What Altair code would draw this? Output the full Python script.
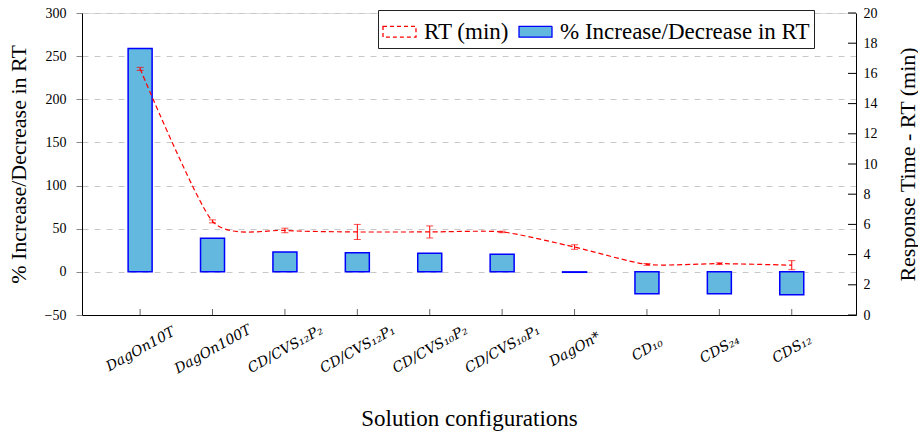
import altair as alt
import pandas as pd

# ---- data ----
configs = ["DagOn10T", "DagOn100T", "CD/CVS₁₂P₂", "CD/CVS₁₂P₁", "CD/CVS₁₀P₂",
           "CD/CVS₁₀P₁", "DagOn*", "CD₁₀", "CDS₂₄", "CDS₁₂"]
pct_change = [259, 39, 23, 22, 21.5, 20.5, -0.5, -25.5, -25.5, -26.5]
rt_min = [16.3, 6.2, 5.6, 5.5, 5.5, 5.5, 4.5, 3.35, 3.4, 3.3]
rt_err = [0.1, 0.1, 0.15, 0.5, 0.4, 0.05, 0.15, 0.06, 0.06, 0.3]
left_ticks = [-50, 0, 50, 100, 150, 200, 250, 300]
right_ticks = [0, 2, 4, 6, 8, 10, 12, 14, 16, 18, 20]

S_RT = "RT (min)"
S_PCT = "% Increase/Decrease in RT"

W, H = 774, 302
FONT = "Liberation Serif"
XFONT = "DejaVu Serif"

df = pd.DataFrame({"config": configs, "pct": pct_change, "rt": rt_min, "err": rt_err})
df["lo"] = df["rt"] - df["err"]
df["hi"] = df["rt"] + df["err"]
rt_tick_df = pd.DataFrame({"v": right_ticks})
legend_df = pd.DataFrame({"series": [S_RT, S_PCT]})

x_enc = alt.X(
    "config:N", sort=configs,
    scale=alt.Scale(type="point", padding=0.845, align=0.475),
    axis=alt.Axis(
        title="Solution configurations", titleFontSize=23, titleFont=FONT,
        titleFontWeight="normal", titleColor="black", titleY=103, titleBaseline="middle",
        labelAngle=331, labelAlign="center", labelBaseline="middle", labelPadding=34,
        labelFontStyle="italic", labelFontSize=14, labelFont=XFONT, labelColor="black",
        ticks=False, tickSize=0, domainColor="black", domainWidth=1, grid=False,
    ),
)

lscale = alt.Scale(domain=[-50, 300], nice=False, zero=False)
rscale = alt.Scale(domain=[0, 20], nice=False, zero=False)

left_axis = alt.Axis(
    title=S_PCT, titleFontSize=22, titleFont=FONT, titleFontWeight="normal",
    titleColor="black", titleAngle=270, titleX=-64, titleY=151,
    titleAlign="center", titleBaseline="middle",
    values=left_ticks, labelFontSize=14, labelFont=FONT, labelColor="black",
    labelPadding=10, tickSize=6, tickColor="#888888",
    domainColor="black", domainWidth=1,
    grid=True, gridDash=[6, 6], gridColor="#c8c8c8", gridWidth=1,
)

right_axis = alt.Axis(
    orient="right", title="Response Time - RT (min)", titleFontSize=22,
    titleFont=FONT, titleFontWeight="normal", titleColor="black",
    titleAngle=270, titleX=51, titleY=151, titleAlign="center", titleBaseline="middle",
    values=right_ticks, labelFontSize=14, labelFont=FONT, labelColor="black",
    ticks=False, tickSize=0, labelPadding=7, domainColor="black", domainWidth=1,
    grid=False,
)

# ---- left group: bars ----
bars = alt.Chart(df).mark_bar(
    fill="#63b8e0", stroke="#0000ff", strokeWidth=1.5, width=24
).encode(
    x=x_enc,
    y=alt.Y("pct:Q", scale=lscale, axis=left_axis),
)

xticks = alt.Chart(df).mark_rule(color="#666666", strokeWidth=1).encode(
    x=x_enc, y=alt.value(H - 6), y2=alt.value(H)
)

left = alt.layer(bars, xticks)

# ---- right group: RT line with error bars ----
line = alt.Chart(df).mark_line(
    color="#ff0000", strokeDash=[5, 3], strokeWidth=1.2,
    interpolate="cardinal", tension=0.35
).encode(
    x=x_enc,
    y=alt.Y("rt:Q", scale=rscale, axis=right_axis),
)

err_rule = alt.Chart(df).mark_rule(color="#ff0000", strokeWidth=1).encode(
    x=x_enc, y=alt.Y("lo:Q", scale=rscale, axis=right_axis), y2="hi:Q"
)
cap_lo = alt.Chart(df).mark_tick(color="#ff0000", size=7, thickness=1).encode(
    x=x_enc, y=alt.Y("lo:Q", scale=rscale, axis=right_axis)
)
cap_hi = alt.Chart(df).mark_tick(color="#ff0000", size=7, thickness=1).encode(
    x=x_enc, y=alt.Y("hi:Q", scale=rscale, axis=right_axis)
)

rticks = alt.Chart(rt_tick_df).mark_rule(color="black", strokeWidth=1).encode(
    y=alt.Y("v:Q", scale=rscale, axis=right_axis), x=alt.value(W - 8), x2=alt.value(W)
)

legend = alt.Legend(
    title=None, orient="none", legendX=296, legendY=-3, direction="horizontal",
    symbolType="M-1,-0.33H1V0.33H-1Z", symbolSize=1089, symbolOpacity=1,
    symbolStrokeWidth=1.3,
    symbolStrokeColor={"expr": "datum.value == 'RT (min)' ? '#ff0000' : '#0000ff'"},
    symbolDash={"expr": "datum.value == 'RT (min)' ? [4, 3] : [1, 0]"},
    labelFont=FONT, labelFontSize=23, labelColor="black", labelOffset=7,
    columnPadding=7, padding=4, strokeColor="#222222", fillColor="white",
    labelLimit=400,
)

legend_layer = alt.Chart(legend_df).mark_square(opacity=0, size=1).encode(
    color=alt.Color("series:N",
                    scale=alt.Scale(domain=[S_RT, S_PCT], range=["transparent", "#63b8e0"]),
                    legend=legend)
)

right = alt.layer(line, err_rule, cap_lo, cap_hi, rticks, legend_layer)

chart = alt.layer(left, right).resolve_scale(y="independent").properties(
    width=W, height=H,
    autosize=alt.AutoSizeParams(type="none"),
    padding={"left": 82, "top": 13, "right": 62, "bottom": 122},
).configure_view(stroke=None).configure(font=FONT)

chart.save("out.html", embed_options={"renderer": "svg", "actions": False})
